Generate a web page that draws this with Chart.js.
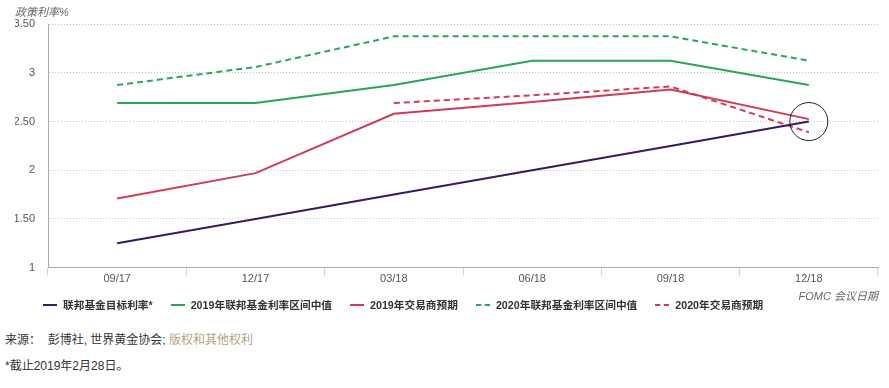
<!DOCTYPE html>
<html>
<head>
<meta charset="utf-8">
<script src="https://cdn.jsdelivr.net/npm/chart.js@4/dist/chart.umd.min.js"></script>
<style>
  html, body { margin: 0; padding: 0; background: #fff; }
  body { width: 889px; height: 388px; position: relative; overflow: hidden;
         font-family: "Liberation Sans", "Noto Sans CJK SC", Arial, sans-serif; }
  #wrap { position: absolute; left: 0; top: 0; width: 889px; height: 304px; }
  #legend { position: absolute; left: 43px; top: 297px; display: flex; align-items: center;
            font-weight: bold; font-size: 10.7px; color: #333; white-space: nowrap; }
  .item { display: flex; align-items: center; margin-right: 18px; }
  .mark { width: 14px; height: 0; margin-right: 6px; }
  #src { position: absolute; left: 5px; top: 330px; font-size: 12px; color: #333; white-space: nowrap; }
  #src .lnk { color: #b2a47e; }
  #note { position: absolute; left: 5px; top: 356px; font-size: 12px; color: #333; white-space: nowrap; }
</style>
</head>
<body>
<div id="wrap"><canvas id="c"></canvas></div>
<div id="legend"></div>
<div id="src">来源：&nbsp; 彭博社, 世界黄金协会; <span class="lnk">版权和其他权利</span></div>
<div id="note">*截止2019年2月28日。</div>
<script>
const categories = ['09/17', '12/17', '03/18', '06/18', '09/18', '12/18'];
const fedTarget = [1.25, 1.50, 1.75, 2.00, 2.25, 2.50];
const fedMedian2019 = [2.69, 2.69, 2.875, 3.125, 3.125, 2.875];
const traders2019 = [1.71, 1.97, 2.58, 2.70, 2.83, 2.525];
const fedMedian2020 = [2.875, 3.06, 3.375, 3.375, 3.375, 3.125];
const traders2020 = [null, null, 2.69, 2.77, 2.86, 2.39];
const yTickValues = [1, 1.5, 2, 2.5, 3, 3.5];
const yTickLabels = ['1', '1.50', '2', '2.50', '3', '3.50'];
const seriesNames = ['联邦基金目标利率*', '2019年联邦基金利率区间中值', '2019年交易商预期', '2020年联邦基金利率区间中值', '2020年交易商预期'];
const yTitle = '政策利率%';
const xTitle = 'FOMC 会议日期';
const highlightCategory = '12/18';
const highlightValue = 2.5;

const PURPLE = '#3a1a5c', GREEN = '#2aa55a', RED = '#d23a5a';
const FONT = '"Liberation Sans", "Noto Sans CJK SC", Arial, sans-serif';

function ds(label, data, color, dashed) {
  return { label, data, borderColor: color, backgroundColor: color, borderWidth: 2,
           borderDash: dashed ? [6, 4] : [], pointRadius: 0, pointHoverRadius: 0,
           tension: 0, fill: false, spanGaps: false };
}

const circlePlugin = {
  id: 'circle',
  afterDatasetsDraw(chart) {
    const x = chart.scales.x.getPixelForValue(categories.indexOf(highlightCategory));
    const y = chart.scales.y.getPixelForValue(highlightValue);
    const ctx = chart.ctx;
    ctx.save();
    ctx.beginPath();
    ctx.arc(x, y, 19, 0, Math.PI * 2);
    ctx.strokeStyle = '#222';
    ctx.lineWidth = 1;
    ctx.stroke();
    ctx.restore();
  }
};

const chart = new Chart(document.getElementById('c'), {
  type: 'line',
  data: {
    labels: categories,
    datasets: [
      ds(seriesNames[0], fedTarget, PURPLE, false),
      ds(seriesNames[1], fedMedian2019, GREEN, false),
      ds(seriesNames[2], traders2019, RED, false),
      ds(seriesNames[3], fedMedian2020, GREEN, true),
      ds(seriesNames[4], traders2020, RED, true)
    ]
  },
  options: {
    responsive: true,
    maintainAspectRatio: false,
    animation: false,
    layout: { padding: { left: 15, right: 11, top: 0, bottom: 0 } },
    plugins: {
      legend: { display: false },
      tooltip: { enabled: false },
      title: { display: true, text: yTitle, align: 'start', color: '#666',
               font: { family: FONT, size: 11, style: 'italic', weight: 'normal' },
               padding: { top: 6, bottom: 5 } }
    },
    scales: {
      x: {
        offset: true,
        grid: { display: true, drawOnChartArea: false, drawTicks: true, tickLength: 8,
                color: '#c8d4e6', offset: true },
        border: { display: true, color: '#aaa', width: 1 },
        ticks: { color: '#555', font: { family: FONT, size: 11 }, padding: -3, maxRotation: 0 },
        title: { display: true, text: xTitle, align: 'end', color: '#666',
                 font: { family: FONT, size: 11, style: 'italic' }, padding: { top: 8, bottom: 0 } }
      },
      y: {
        min: 1, max: 3.5,
        afterFit(scale) { scale.width = 33; },
        afterBuildTicks(scale) { scale.ticks = yTickValues.map(v => ({ value: v })); },
        grid: { color: '#c4c4c4', drawTicks: false, lineWidth: 1 },
        border: { display: true, color: '#aaa', width: 1, dash: [1, 2] },
        ticks: { color: '#555', font: { family: FONT, size: 11 }, padding: 13,
                 callback: (v) => yTickLabels[yTickValues.indexOf(v)] ?? '' }
      }
    }
  },
  plugins: [circlePlugin]
});

// HTML legend built from datasets
const leg = document.getElementById('legend');
chart.data.datasets.forEach(d => {
  const it = document.createElement('div');
  it.className = 'item';
  const m = document.createElement('span');
  m.className = 'mark';
  m.style.borderTop = '2px ' + (d.borderDash.length ? 'dashed ' : 'solid ') + d.borderColor;
  const t = document.createElement('span');
  t.textContent = d.label;
  it.appendChild(m); it.appendChild(t);
  leg.appendChild(it);
});
</script>
</body>
</html>
